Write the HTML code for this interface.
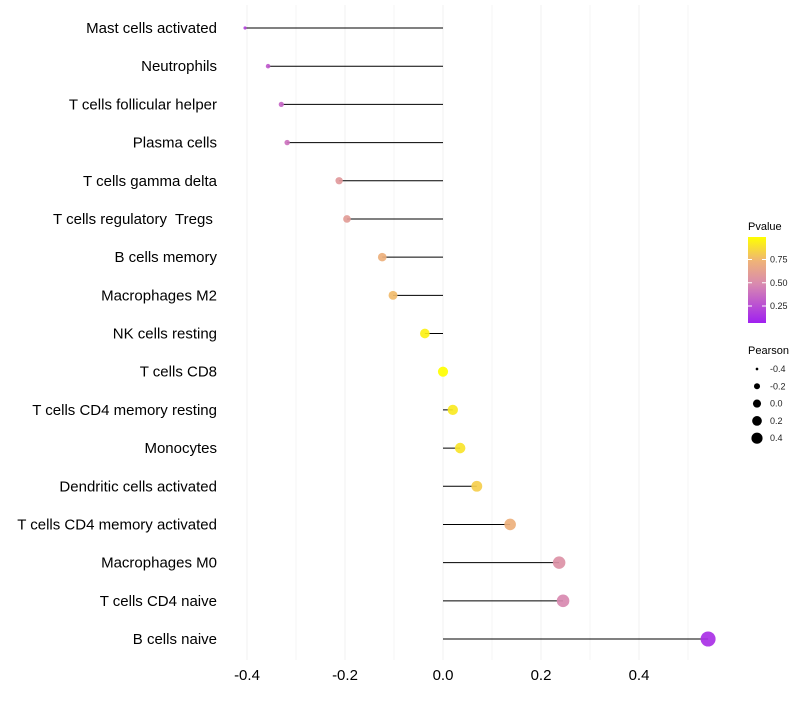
<!DOCTYPE html>
<html><head><meta charset="utf-8"><style>
body{margin:0;background:#fff;font-family:"Liberation Sans",sans-serif}
svg text{font-family:"Liberation Sans",sans-serif;white-space:pre}
</style></head><body>
<svg id="chart" width="800" height="700" viewBox="0 0 800 700" xmlns="http://www.w3.org/2000/svg">
<defs><linearGradient id="pg" x1="0" y1="1" x2="0" y2="0">
<stop offset="0" stop-color="#a020f0"/><stop offset="0.45" stop-color="#d889b0"/><stop offset="0.72" stop-color="#efb378"/><stop offset="1" stop-color="#ffff00"/></linearGradient></defs>
<g id="grid"></g>
<g id="marks"></g>
<g id="ylabels"></g>
<g id="xlabels"></g>
<g>
<text x="748" y="230" font-size="11">Pvalue</text>
<rect x="748" y="237" width="18" height="86" fill="url(#pg)"/>
<g id="pleg"></g>
</g>
<g>
<text x="748" y="354" font-size="11">Pearson</text>
<g id="sleg"></g>
</g>
</svg>
<script>
const categories=["Mast cells activated","Neutrophils","T cells follicular helper","Plasma cells","T cells gamma delta","T cells regulatory  Tregs ","B cells memory","Macrophages M2","NK cells resting","T cells CD8","T cells CD4 memory resting","Monocytes","Dendritic cells activated","T cells CD4 memory activated","Macrophages M0","T cells CD4 naive","B cells naive"];
const pearson=[-0.404,-0.357,-0.33,-0.318,-0.212,-0.196,-0.124,-0.102,-0.037,0.0,0.02,0.035,0.069,0.137,0.237,0.245,0.541];
const pvalue=[0.15,0.25,0.3,0.35,0.55,0.57,0.7,0.75,0.95,1.0,0.92,0.9,0.82,0.7,0.5,0.45,0.07];
const xTicks=[-0.4,-0.2,0.0,0.2,0.4];
const xTickLabels=["-0.4","-0.2","0.0","0.2","0.4"];
const pTicks=[0.25,0.5,0.75];
const pTickLabels=["0.25","0.50","0.75"];
const sizeBreaks=[-0.4,-0.2,0.0,0.2,0.4];
const sizeLabels=["-0.4","-0.2","0.0","0.2","0.4"];
const NS="http://www.w3.org/2000/svg";
const x=v=>443+v*490;
const y=i=>28+i*(639-28)/16;
const pY=p=>306-(p-0.25)*93;
const rad=v=>Math.sqrt(2.5+(v+0.404)/(0.945)*54);
function col(p){const st=[[0,[160,32,240]],[0.45,[216,137,176]],[0.72,[239,179,120]],[1,[255,255,0]]];
for(let k=1;k<st.length;k++){if(p<=st[k][0]){const a=st[k-1],b=st[k],t=(p-a[0])/(b[0]-a[0]);return "rgb("+a[1].map((c,j)=>Math.round(c+(b[1][j]-c)*t)).join(",")+")";}}return "rgb(255,255,0)";}
function mk(tag,at,parent){const e=document.createElementNS(NS,tag);for(const k in at)e.setAttribute(k,at[k]);document.getElementById(parent).appendChild(e);return e;}
const grid=[-0.4,-0.3,-0.2,-0.1,0,0.1,0.2,0.3,0.4,0.5];
grid.forEach(g=>{const l=mk("line",{x1:x(g),x2:x(g),y1:5,y2:660,stroke:"#f0f0f0","stroke-width":Math.abs(g*10)%2<0.01?1:0.6},"grid");

});
categories.forEach((c,i)=>{
const l=mk("line",{x1:x(0),x2:x(pearson[i]),y1:y(i),y2:y(i),stroke:"#000","stroke-width":1},"marks");


const p=mk("circle",{cx:x(pearson[i]),cy:y(i),r:rad(pearson[i]),fill:col(pvalue[i]),"fill-opacity":0.92},"marks");


const t=mk("text",{x:217,y:y(i)+5,"text-anchor":"end","font-size":15,fill:"#000","xml:space":"preserve"},"ylabels");t.textContent=c;


});
xTicks.forEach((v,i)=>{const t=mk("text",{x:x(v),y:680,"text-anchor":"middle","font-size":15,fill:"#000"},"xlabels");t.textContent=xTickLabels[i];

});
pTicks.forEach((v,i)=>{const l=mk("line",{x1:748,x2:752,y1:pY(v),y2:pY(v),stroke:"#fff"},"pleg");


const l2=mk("line",{x1:762,x2:766,y1:pY(v),y2:pY(v),stroke:"#fff"},"pleg");


const t=mk("text",{x:770,y:pY(v)+3,"font-size":9,fill:"#222"},"pleg");t.textContent=pTickLabels[i];

});
sizeBreaks.forEach((v,i)=>{const cy=369+i*17.3;const c=mk("circle",{cx:757,cy:cy,r:rad(v)*0.8,fill:"#000"},"sleg");


const t=mk("text",{x:770,y:cy+3,"font-size":9,fill:"#222"},"sleg");t.textContent=sizeLabels[i];

});
</script>
</body></html>
